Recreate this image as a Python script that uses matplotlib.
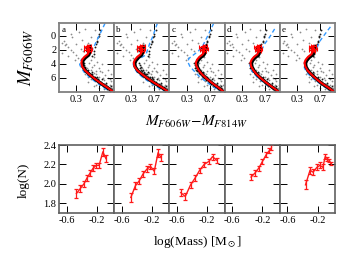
import matplotlib
matplotlib.use('Agg')
import matplotlib.pyplot as plt
import matplotlib.patheffects as pe

plt.rcParams['font.family'] = ['Liberation Serif', 'DejaVu Serif']
plt.rcParams['mathtext.fontset'] = 'stix'
plt.rcParams['axes.unicode_minus'] = False

panels = ['a', 'b', 'c', 'd', 'e']

# --- CMD: red fiducial lines (one per cluster) ---
red_y = [1.4, 1.6, 1.8, 2.0, 2.2, 2.6, 3.0, 3.4, 3.8, 4.3, 4.9, 5.5, 6.1, 6.7, 7.3, 8.0]
red_x = {
    'a': [0.52, 0.47, 0.53, 0.48, 0.52, 0.50, 0.44, 0.40, 0.39, 0.40, 0.45, 0.53, 0.62, 0.72, 0.83, 0.95],
    'b': [0.49, 0.43, 0.49, 0.44, 0.48, 0.46, 0.40, 0.36, 0.34, 0.35, 0.40, 0.49, 0.59, 0.70, 0.82, 0.95],
    'c': [0.62, 0.56, 0.63, 0.57, 0.61, 0.58, 0.52, 0.48, 0.46, 0.47, 0.51, 0.57, 0.65, 0.74, 0.84, 0.95],
    'd': [0.60, 0.55, 0.61, 0.56, 0.59, 0.57, 0.51, 0.47, 0.45, 0.46, 0.50, 0.56, 0.64, 0.73, 0.83, 0.95],
    'e': [0.59, 0.54, 0.60, 0.55, 0.58, 0.55, 0.49, 0.45, 0.43, 0.44, 0.48, 0.55, 0.63, 0.72, 0.83, 0.95],
}
red_xerr = [0.04, 0.04, 0.04, 0.04, 0.035]

# --- CMD: blue dashed isochrones ---
iso_x = {
    'a': [0.80, 0.72, 0.66, 0.61, 0.56, 0.48, 0.40, 0.36, 0.36, 0.39, 0.44, 0.52, 0.61, 0.71, 0.82, 0.94],
    'b': [0.75, 0.66, 0.62, 0.58, 0.55, 0.45, 0.36, 0.33, 0.35, 0.40, 0.48, 0.58, 0.69, 0.81, 0.94],
    'c': [0.77, 0.66, 0.58, 0.50, 0.42, 0.34, 0.32, 0.36, 0.43, 0.51, 0.60, 0.70, 0.81, 0.94],
    'd': [0.87, 0.78, 0.70, 0.65, 0.60, 0.52, 0.46, 0.44, 0.46, 0.50, 0.57, 0.66, 0.76, 0.86, 0.95],
    'e': [0.88, 0.78, 0.70, 0.65, 0.60, 0.52, 0.45, 0.42, 0.43, 0.47, 0.54, 0.63, 0.73, 0.84, 0.95],
}
iso_y = {
    'a': [-1.8, -0.4, 0.6, 1.5, 2.3, 2.9, 3.3, 3.7, 4.1, 4.6, 5.2, 5.8, 6.4, 7.0, 7.6, 8.1],
    'b': [-1.8, 0.3, 1.0, 2.0, 2.7, 3.2, 3.6, 4.0, 4.6, 5.2, 5.8, 6.4, 7.0, 7.6, 8.1],
    'c': [-1.8, 0.1, 1.4, 2.2, 2.7, 3.2, 3.7, 4.4, 5.0, 5.7, 6.3, 6.9, 7.5, 8.1],
    'd': [-1.0, 0.2, 1.1, 1.9, 2.6, 3.2, 3.7, 4.2, 4.8, 5.3, 5.9, 6.5, 7.1, 7.6, 8.0],
    'e': [-1.3, -0.2, 0.7, 1.6, 2.4, 3.0, 3.5, 4.0, 4.6, 5.2, 5.8, 6.4, 7.0, 7.6, 8.1],
}

# --- CMD: stars (members dark, field/scatter grey) ---
member_x = [0.72, 0.70, 0.69, 0.68, 0.66, 0.66, 0.64, 0.62, 0.61, 0.60, 0.58,
            0.43, 0.44, 0.45, 0.47, 0.48, 0.50, 0.52, 0.55, 0.56, 0.58, 0.60,
            0.62, 0.64, 0.66, 0.68, 0.70, 0.72, 0.74, 0.76, 0.78, 0.80, 0.82,
            0.84, 0.86, 0.88, 0.90, 0.46, 0.53, 0.57, 0.63, 0.67, 0.73, 0.79,
            0.85, 0.91, 0.51, 0.59, 0.65, 0.71, 0.77, 0.83, 0.89]
member_y = [-0.8, -0.3, 0.0, 0.2, 0.7, 0.9, 1.2, 1.6, 2.2, 2.6, 2.9,
            3.8, 4.2, 4.6, 4.8, 5.0, 4.9, 5.3, 5.4, 5.7, 5.2, 6.0,
            5.9, 6.3, 5.8, 6.6, 6.4, 6.8, 6.2, 7.1, 6.9, 7.3, 6.7,
            7.6, 7.3, 7.8, 7.2, 4.4, 5.5, 5.5, 6.1, 6.2, 6.6, 7.0,
            7.4, 7.7, 5.1, 5.8, 6.0, 6.7, 6.9, 7.2, 7.5]
field_x = [0.05, 0.10, 0.15, 0.20, 0.25, 0.30, 0.08, 0.12, 0.35, 0.45, 0.55,
           0.62, 0.40, 0.30, 0.20, 0.50, 0.15, 0.28, 0.05, 0.60, 0.70, 0.65,
           0.75, 0.80, 0.85, 0.70, 0.60, 0.55, 0.90, 0.78, 0.68, 0.88, 0.72,
           0.62, 0.82, 0.92, 0.50, 0.45, 0.55, 0.65, 0.78, 0.85, 0.90, 0.58,
           0.74, 0.52, 0.48, 0.66, 0.82, 0.60, 0.70, 0.50, 0.58, 0.76, 0.64,
           0.72, 0.88, 0.94, 0.55, 0.60, 0.38, 0.22, 0.42, 0.33]
field_y = [1.0, 1.3, 1.6, 2.0, 2.3, 2.7, 0.7, 1.1, -0.5, -1.0, 0.2,
           -0.8, 0.6, 1.2, -0.3, 1.0, 2.8, 3.4, 2.5, 4.2, 4.6, 5.0,
           5.2, 5.6, 6.0, 5.8, 5.3, 4.8, 6.5, 6.3, 6.1, 7.0, 6.8,
           6.5, 7.3, 7.5, 5.8, 5.5, 6.2, 7.0, 7.6, 4.8, 5.5, 4.4,
           4.0, 3.9, 4.6, 3.7, 6.8, 7.2, 7.5, 6.6, 5.7, 6.0, 5.5,
           5.0, 6.2, 7.0, 3.4, 3.0, 1.8, 0.2, 2.2, 3.1]

# --- mass functions ---
mf_x = {
    'a': [-0.47, -0.42, -0.37, -0.33, -0.29, -0.25, -0.21, -0.17, -0.12, -0.08],
    'b': [-0.48, -0.42, -0.37, -0.32, -0.27, -0.22, -0.17, -0.12, -0.08],
    'c': [-0.55, -0.49, -0.42, -0.36, -0.30, -0.24, -0.18, -0.13, -0.07],
    'd': [-0.35, -0.30, -0.25, -0.20, -0.15, -0.11, -0.08],
    'e': [-0.36, -0.30, -0.26, -0.21, -0.17, -0.13, -0.10, -0.07, -0.045, -0.025],
}
mf_y = {
    'a': [1.90, 1.95, 2.00, 2.06, 2.11, 2.16, 2.19, 2.19, 2.33, 2.26],
    'b': [1.86, 1.98, 2.03, 2.10, 2.15, 2.18, 2.13, 2.32, 2.27],
    'c': [1.91, 1.87, 1.99, 2.06, 2.14, 2.20, 2.23, 2.28, 2.24],
    'd': [2.07, 2.11, 2.16, 2.23, 2.30, 2.34, 2.37],
    'e': [1.99, 2.14, 2.12, 2.17, 2.19, 2.17, 2.28, 2.26, 2.24, 2.21],
}
mf_err = {
    'a': [0.045, 0.035, 0.03, 0.03, 0.03, 0.03, 0.025, 0.025, 0.04, 0.035],
    'b': [0.05, 0.035, 0.03, 0.03, 0.03, 0.025, 0.03, 0.04, 0.035],
    'c': [0.04, 0.04, 0.03, 0.03, 0.025, 0.025, 0.025, 0.03, 0.03],
    'd': [0.03, 0.03, 0.025, 0.025, 0.025, 0.025, 0.025],
    'e': [0.045, 0.035, 0.03, 0.03, 0.03, 0.03, 0.025, 0.02, 0.02, 0.02],
}

fig = plt.figure(figsize=(3.6, 2.7), dpi=100)

x0, width = 59 / 360, 55.2 / 360
top_b, top_h = 1 - 92 / 270, 69 / 270
bot_b, bot_h = 1 - 213 / 270, 68 / 270

for i, p in enumerate(panels):
    ax = fig.add_axes([x0 + i * width, top_b, width, top_h])
    ax.scatter(field_x, field_y, s=1.6, color='#8c8c8c', linewidths=0)
    ax.scatter(member_x, member_y, s=1.8, color='#1a1a1a', linewidths=0)
    ax.plot(iso_x[p], iso_y[p], color='#3399ff', lw=1.0, dashes=(3, 2))
    ax.plot(red_x[p], red_y, color='red', lw=1.5,
            path_effects=[pe.Stroke(offset=(0.7, -0.6), linewidth=2.4, foreground='k'),
                          pe.Normal()])
    ax.errorbar(red_x[p][:5], red_y[:5], xerr=red_xerr, fmt='none',
                ecolor='red', elinewidth=0.8, capsize=1.5, capthick=0.8)
    ax.set_xlim(0.0, 0.96)
    ax.set_ylim(8.0, -1.85)
    ax.set_xticks([0.3, 0.7])
    ax.set_yticks([0, 2, 4, 6])
    ax.tick_params(direction='in', length=5, width=0.7, top=True, right=True,
                   labelsize=7.5, pad=2)
    if i > 0:
        ax.set_yticklabels([])
    ax.text(0.04, 0.96, p, transform=ax.transAxes, fontsize=6.5, va='top', ha='left')
    for s in ax.spines.values():
        s.set_color('#808080')
        s.set_linewidth(1.3)

    bx = fig.add_axes([x0 + i * width, bot_b, width, bot_h])
    bx.errorbar(mf_x[p], mf_y[p], yerr=mf_err[p], color='#ff1a1a', lw=1.0,
                elinewidth=0.9, capsize=1.6, capthick=0.9)
    bx.set_xlim(-0.7, 0.03)
    bx.set_ylim(1.7, 2.4)
    bx.set_xticks([-0.6, -0.2])
    bx.set_yticks([1.8, 2.0, 2.2, 2.4])
    bx.set_yticklabels(['1.8', '2.0', '2.2', '2.4'])
    bx.tick_params(direction='in', length=5, width=0.7, top=True, right=True,
                   labelsize=7.5, pad=2)
    if i > 0:
        bx.set_yticklabels([])
    for s in bx.spines.values():
        s.set_color('#606060')
        s.set_linewidth(1.2)

fig.text(0.072, 1 - 57 / 270, r'$M_{F606W}$', rotation=90, fontsize=13.5,
         ha='center', va='center')
fig.text(0.545, 1 - 122 / 270, r'$M_{F606W}\!-\!M_{F814W}$', fontsize=11,
         ha='center', va='center')
fig.text(0.065, 1 - 180 / 270, 'log(N)', rotation=90, fontsize=9.5,
         ha='center', va='center')
fig.text(0.548, 1 - 242 / 270, r'log(Mass) [M$_\odot$]', fontsize=9.5,
         ha='center', va='center')

fig.savefig('out.png', dpi=100)
